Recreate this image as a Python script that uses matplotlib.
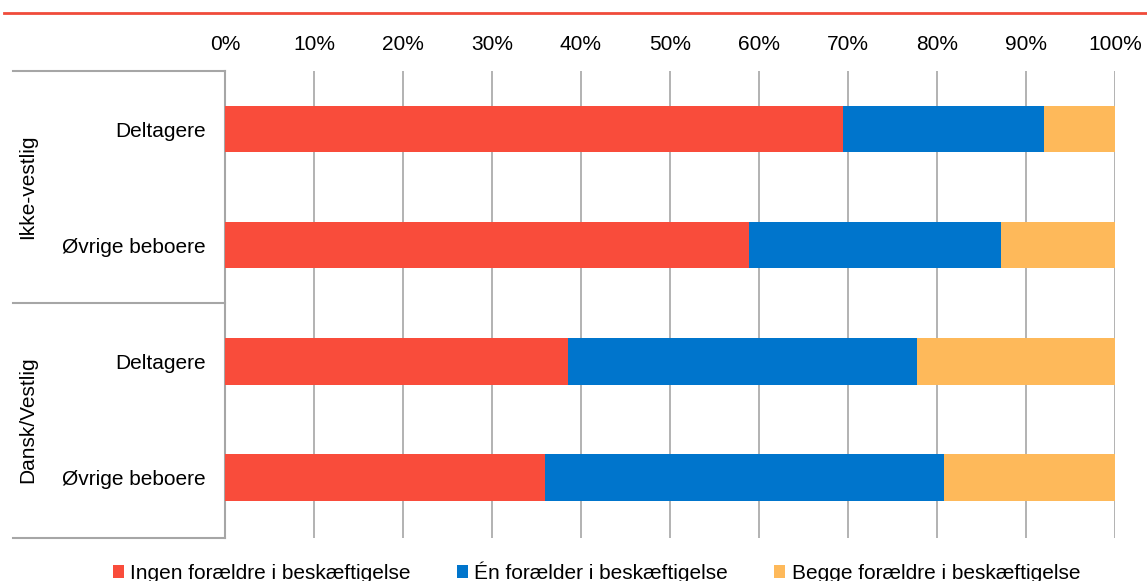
import numpy as np
import matplotlib.pyplot as plt
from matplotlib.lines import Line2D
import matplotlib.transforms as mtransforms

plt.rcParams['font.family'] = ['Liberation Sans', 'DejaVu Sans']

# data (percent)
categories = ["Deltagere", "Øvrige beboere", "Deltagere", "Øvrige beboere"]
groups = ["Ikke-vestlig", "Dansk/Vestlig"]
ingen = [69.4, 58.9, 38.5, 35.9]
en = [22.6, 28.3, 39.2, 44.9]
begge = [8.0, 12.8, 22.3, 19.2]
series_names = ["Ingen forældre i beskæftigelse", "Én forælder i beskæftigelse",
                "Begge forældre i beskæftigelse"]
colors = ["#F94C3B", "#0075CC", "#FEB95A"]
ticks = np.arange(0, 101, 10)

W, H = 1147, 581
fig = plt.figure(figsize=(W / 100, H / 100), dpi=100)
ax = fig.add_axes([225 / W, 1 - 538 / H, 890 / W, 467 / H])

y = np.arange(len(categories))
left = np.zeros(len(categories))
for vals, name, col in zip([ingen, en, begge], series_names, colors):
    ax.barh(y, vals, left=left, height=0.4, color=col, label=name, zorder=3)
    left = left + np.array(vals)

ax.set_xlim(0, 100)
ax.set_ylim(3.52, -0.5)
ax.xaxis.tick_top()
ax.set_xticks(ticks)
ax.set_xticklabels([f"{t}%" for t in ticks], fontsize=15)
ax.set_yticks(y)
ax.set_yticklabels(categories, fontsize=15)
ax.tick_params(axis='x', length=0, pad=12)
ax.tick_params(axis='y', length=0, pad=14)
ax.grid(axis='x', color='#A6A6A6', linewidth=1.2, zorder=0)
for s in ['top', 'right', 'bottom']:
    ax.spines[s].set_visible(False)
ax.spines['left'].set_color('#A6A6A6')
ax.spines['left'].set_linewidth(1.5)

# group separators and group labels
trans = mtransforms.blended_transform_factory(ax.transAxes, ax.transData)
x0 = (13 - 225) / 890
for yy in [-0.5, 1.5, 3.52]:
    ax.add_line(Line2D([x0, 0], [yy, yy], transform=trans, color='#A6A6A6',
                       linewidth=1.5, clip_on=False))
gx = (28 - 225) / 890
for i, g in enumerate(groups):
    ax.text(gx, 2 * i + 0.5, g, transform=trans, rotation=90, fontsize=15,
            ha='center', va='center')

# red rule at top
fig.add_artist(Line2D([4 / W, 1], [1 - 12.5 / H, 1 - 12.5 / H], color='#F04B3A',
                      linewidth=2))

fig.legend(loc='center', bbox_to_anchor=(0.52, 1 - 572 / H), ncol=3, frameon=False,
           fontsize=15, handlelength=0.55, handleheight=0.55, handletextpad=0.3,
           columnspacing=2.2)

fig.savefig("out.png", dpi=100)
